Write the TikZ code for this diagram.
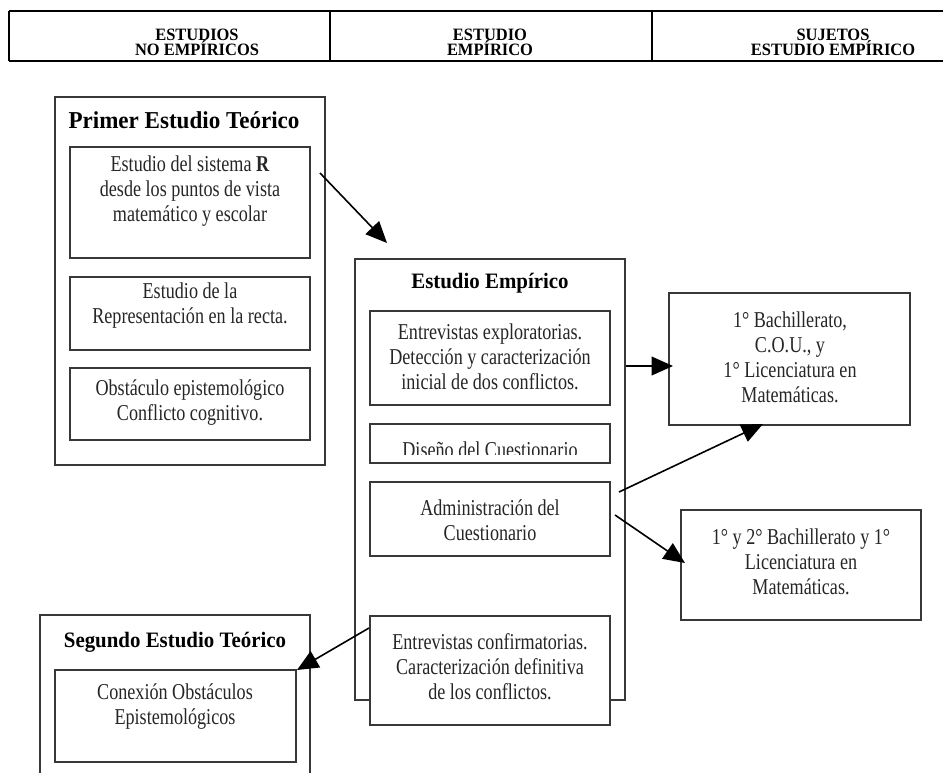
\documentclass[tikz,border=0pt]{standalone}
\usepackage{fontspec}
\setmainfont{Liberation Serif}
\newfontfamily\bodyf[FakeStretch=0.8]{Liberation Serif}
\newfontfamily\titf[FakeStretch=0.95]{Liberation Serif}
\newfontfamily\headf[FakeStretch=0.95]{Liberation Serif}
\usetikzlibrary{arrows.meta,fit}
\begin{document}
\begin{tikzpicture}[x=0.75pt,y=-0.75pt,
  box/.style={draw=black!78, line width=1.1pt, inner sep=0pt},
  txt/.style={align=center, font=\bodyf\fontsize{17}{18.75}\selectfont, text=black!85, inner sep=0pt},
  ttl/.style={font=\titf\bfseries\fontsize{16.5}{19}\selectfont, inner sep=0pt},
  bigttl/.style={font=\titf\bfseries\fontsize{18.2}{21}\selectfont, inner sep=0pt},
  hd/.style={align=center, font=\headf\bfseries\fontsize{13}{11.5}\selectfont, inner sep=0pt},
  arr/.style={line width=1.2pt, -{Triangle[length=16pt,width=14pt]}},
  hline/.style={line width=1.5pt},
  hthick/.style={line width=2pt}]
\useasboundingbox (0,0) rectangle (943,772);

% header
\draw[hline] (9,10.5) -- (943,10.5);
\draw[hthick] (9,61) -- (943,61);
\draw[hline] (9,10.5) -- (9,61);
\draw[hline] (330,10.5) -- (330,61);
\draw[hline] (652,10.5) -- (652,61);
\node[hd] (h1) at (197,42.5) {ESTUDIOS\\NO EMPÍRICOS};
\node[hd] (h2) at (490,42.5) {ESTUDIO\\EMPÍRICO};
\node[hd] (h3) at (833,42.5) {SUJETOS\\ESTUDIO EMPÍRICO};

% Primer Estudio Teorico
\node[box, fit={(55,97)(325,465)}] (p0) {};
\node[bigttl] (p0t) at (184,120) {Primer Estudio Teórico};
\node[box, fit={(70,147)(310,258)}] (p1) {};
\node[txt] (p1t) at (190,191) {Estudio del sistema \textbf{R}\\desde los puntos de vista\\matemático y escolar};
\node[box, fit={(70,277)(310,350)}] (p2) {};
\node[txt] (p2t) at (190,306) {Estudio de la\\Representación en la recta.};
\node[box, fit={(70,368)(310,440)}] (p3) {};
\node[txt] (p3t) at (190,403) {Obstáculo epistemológico\\Conflicto cognitivo.};

% Estudio Empirico
\node[box, fit={(355,259)(625,700)}] (e0) {};
\node[ttl] (e0t) at (490,283) {Estudio Empírico};
\node[box, fill=white, fit={(370,311)(610,405)}] (e1) {};
\node[txt] (e1t) at (490,357) {Entrevistas exploratorias.\\Detección y caracterización\\inicial de dos conflictos.};
\node[box, fill=white, fit={(370,424)(610,463)}] (e2) {};
\begin{scope}
  \clip (370,424) rectangle (610,454);
  \node[txt, anchor=base] (e2t) at (490,457) {Diseño del Cuestionario};
\end{scope}
\node[box, fill=white, fit={(370,482)(610,556)}] (e3) {};
\node[txt] (e3t) at (490,520) {Administración del\\Cuestionario};
\node[box, fill=white, fit={(370,616)(610,725)}] (e4) {};
\node[txt] (e4t) at (490,667) {Entrevistas confirmatorias.\\Caracterización definitiva\\de los conflictos.};

% Sujetos
\node[box, fit={(669,293)(910,425)}] (r1) {};
\node[txt] (r1t) at (790,357) {1° Bachillerato,\\C.O.U., y\\1° Licenciatura en\\Matemáticas.};
\node[box, fit={(681,510)(921,620)}] (r2) {};
\node[txt] (r2t) at (801,562) {1° y 2° Bachillerato y 1°\\Licenciatura en\\Matemáticas.};

% Segundo Estudio Teorico
\node[box, fit={(40,615)(310,800)}] (s0) {};
\node[ttl] (s0t) at (175,642) {Segundo Estudio Teórico};
\node[box, fit={(55,670)(296,762)}] (s1) {};
\node[txt] (s1t) at (175,707) {Conexión Obstáculos\\Epistemológicos};

% arrows
\coordinate (a1s) at (320,173); \coordinate (a1e) at (387,243);
\coordinate (a2s) at (626,366); \coordinate (a2e) at (673,366);
\coordinate (a3s) at (619,492); \coordinate (a3e) at (763,424);
\coordinate (a4s) at (615,515); \coordinate (a4e) at (685,563);
\coordinate (a5s) at (369,628); \coordinate (a5e) at (297,670);
\draw[arr] (a1s) -- (a1e);
\draw[arr] (a2s) -- (a2e);
\draw[arr] (a3s) -- (a3e);
\draw[arr] (a4s) -- (a4e);
\draw[arr] (a5s) -- (a5e);
\end{tikzpicture}
\end{document}
